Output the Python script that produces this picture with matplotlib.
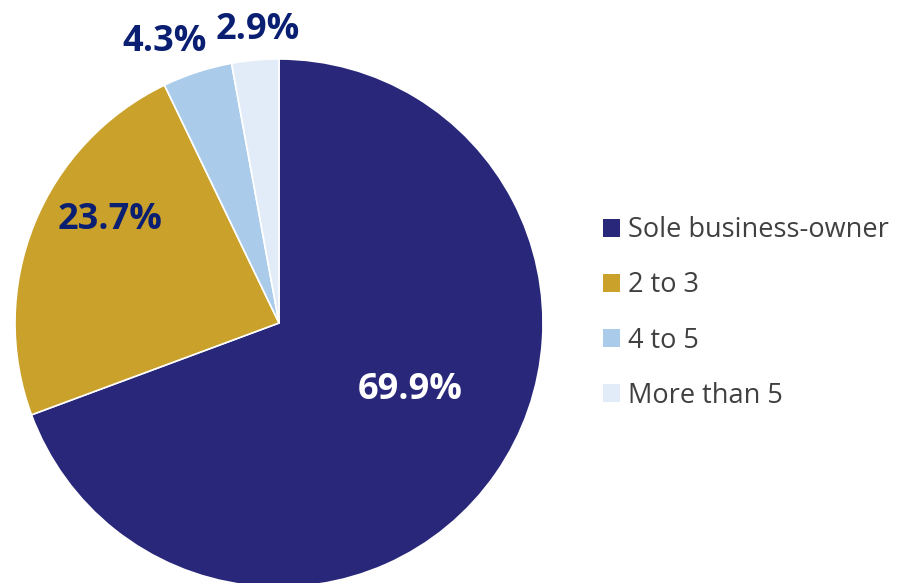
import numpy as np
from matplotlib import pyplot as plt
from matplotlib.patches import Patch

# données
categories = ["Sole business-owner", "2 to 3", "4 to 5", "More than 5"]
values = [69.9, 23.7, 4.3, 2.9]
colors = ["#29277A", "#C9A12B", "#AACBE9", "#E1ECF8"]

plt.rcParams['font.family'] = ['Open Sans', 'DejaVu Sans']

W, H = 904, 583
fig = plt.figure(figsize=(W / 100, H / 100), dpi=100)

# centre du camembert en pixels et rayon
cx, cy, r = 279, 323, 264
ax = fig.add_axes([(cx - r) / W, (H - cy - r) / H, 2 * r / W, 2 * r / H])

wedges, _ = ax.pie(values, colors=colors, startangle=90, counterclock=False,
                   radius=1, wedgeprops=dict(edgecolor="white", linewidth=1.2))
ax.set_xlim(-1, 1)
ax.set_ylim(-1, 1)

# position des étiquettes (en unités du rayon)
lab_pos = [(0.496, -0.254), (-0.640, 0.390), (-0.432, 1.064), (-0.080, 1.110)]
lab_col = ["white", "#0B1F72", "#0B1F72", "#0B1F72"]
for (x, y), v, c in zip(lab_pos, values, lab_col):
    ax.text(x, y, "%.1f%%" % v, ha="center", va="center",
            fontsize=26, fontweight="bold", color=c, clip_on=False)

handles = [Patch(facecolor=c, edgecolor="none") for c in colors]
fig.legend(handles, categories, loc="center left", bbox_to_anchor=(603 / W, 1 - 313 / H),
           frameon=False, fontsize=19.5, labelcolor="#404040", handlelength=0.62, handleheight=0.62,
           handletextpad=0.3, labelspacing=1.0, borderaxespad=0, borderpad=0)

fig.savefig("out.png", dpi=100)
